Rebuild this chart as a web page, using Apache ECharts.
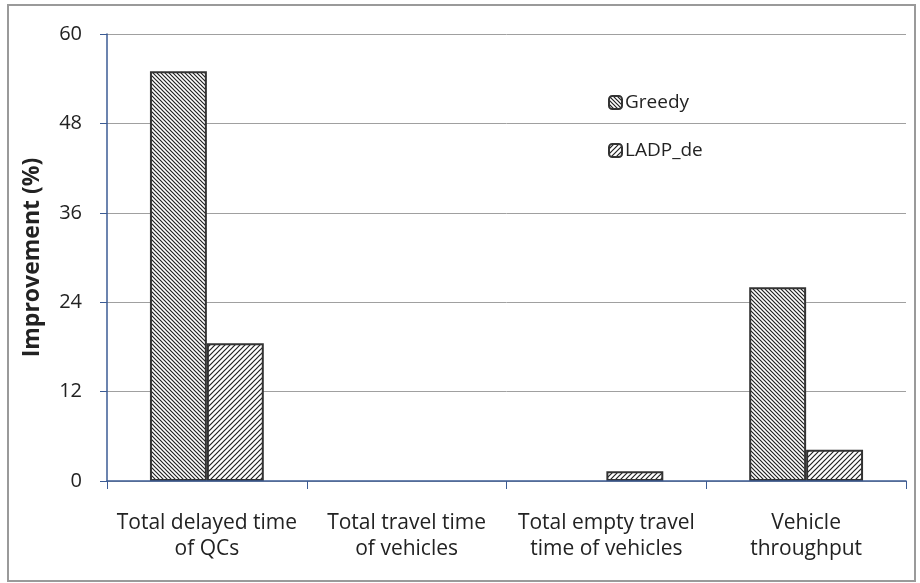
<!DOCTYPE html>
<html>
<head>
<meta charset="utf-8">
<script src="https://cdn.jsdelivr.net/npm/echarts@6/dist/echarts.min.js"></script>
<style>
  html, body { margin: 0; padding: 0; background: #fff; }
  #chart { width: 920px; height: 583px; }
</style>
</head>
<body>
<div id="chart"></div>
<script>
var categories = ['Total delayed time\nof QCs', 'Total travel time\nof vehicles', 'Total empty travel\ntime of vehicles', 'Vehicle\nthroughput']
var greedy = [55, 0, 0, 26]
var ladpDe = [18.5, 0, 1.3, 4.2]
var yTicks = [0, 12, 24, 36, 48, 60]

// hatch fill, dir 1 = "\" lines, dir -1 = "/" lines
function hatch(size, dir) {
  var c = document.createElement('canvas')
  c.width = size
  c.height = size
  var ctx = c.getContext('2d')
  ctx.fillStyle = '#fff'
  ctx.fillRect(0, 0, size, size)
  ctx.strokeStyle = '#222'
  ctx.lineWidth = 1.2
  ctx.beginPath()
  if (dir > 0) {
    ctx.moveTo(-1, -1); ctx.lineTo(size + 1, size + 1)
    ctx.moveTo(-1, size - 1); ctx.lineTo(1, size + 1)
    ctx.moveTo(size - 1, -1); ctx.lineTo(size + 1, 1)
  } else {
    ctx.moveTo(-1, size + 1); ctx.lineTo(size + 1, -1)
    ctx.moveTo(-1, 1); ctx.lineTo(1, -1)
    ctx.moveTo(size - 1, size + 1); ctx.lineTo(size + 1, size - 1)
  }
  ctx.stroke()
  return c
}

// zero bars are not drawn in the original, so drop their outline
function noZeroBorder(arr) {
  return arr.map(function(v) {
    return v === 0 ? { value: v, itemStyle: { borderWidth: 0 } } : v
  })
}

var font = '"Open Sans", sans-serif'
var chart = echarts.init(document.getElementById('chart'))

chart.setOption({
  animation: false,
  textStyle: { fontFamily: font },
  graphic: [{
    type: 'rect',
    shape: { x: 8, y: 5, width: 907, height: 576 },
    style: { fill: 'none', stroke: '#9a9a9a', lineWidth: 2 },
    silent: true
  }],
  grid: { left: 107, right: 14, top: 34, bottom: 102 },
  legend: {
    orient: 'vertical',
    left: 603,
    top: 88,
    itemGap: 29,
    itemWidth: 13,
    itemHeight: 13,
    textStyle: { fontSize: 19, color: '#222', fontFamily: font, padding: [0, 0, 0, -2] },
    data: ['Greedy', 'LADP_de']
  },
  xAxis: {
    type: 'category',
    data: categories,
    z: 5,
    axisLine: { lineStyle: { color: '#3b5b94', width: 1.5 } },
    axisTick: { show: true, length: 8, lineStyle: { color: '#3b5b94' } },
    axisLabel: { fontSize: 21, color: '#222', lineHeight: 26, margin: 29, interval: 0, fontFamily: font }
  },
  yAxis: {
    type: 'value',
    min: yTicks[0],
    max: yTicks[yTicks.length - 1],
    interval: 12,
    name: 'Improvement (%)',
    nameLocation: 'middle',
    nameGap: 63,
    nameTextStyle: { fontSize: 23, fontWeight: 'bold', color: '#222', fontFamily: font },
    axisLine: { show: true, lineStyle: { color: '#3b5b94', width: 1.5 } },
    axisTick: { show: true, length: 7, lineStyle: { color: '#3b5b94' } },
    axisLabel: { fontSize: 20, color: '#222', margin: 25, fontFamily: font },
    splitLine: { lineStyle: { color: '#a0a0a0', width: 1 } }
  },
  series: [{
    name: 'Greedy',
    type: 'bar',
    data: noZeroBorder(greedy),
    barWidth: '28.5%',
    barGap: '0%',
    itemStyle: {
      color: { image: hatch(4, 1), repeat: 'repeat' },
      borderColor: '#333',
      borderWidth: 2
    }
  }, {
    name: 'LADP_de',
    type: 'bar',
    data: noZeroBorder(ladpDe),
    barWidth: '28.5%',
    itemStyle: {
      color: { image: hatch(5, -1), repeat: 'repeat' },
      borderColor: '#333',
      borderWidth: 2
    }
  }]
})
</script>
</body>
</html>
